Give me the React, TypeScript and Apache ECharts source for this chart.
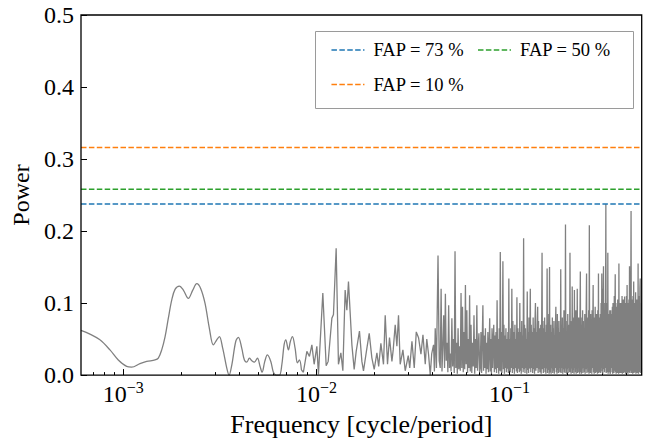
import React, { useEffect, useRef } from "react";
import * as echarts from "echarts";

const F_MIN = 6.04e-4;
const F_MAX = 0.483;

// Smooth low-frequency part of the periodogram
const SMOOTH_FREQ = [
  6.04e-4, 6.72e-4, 7.57e-4, 8.53e-4, 9.42e-4, 1.041e-3, 1.105e-3, 1.22e-3, 1.322e-3, 1.46e-3,
  1.518e-3, 1.581e-3, 1.645e-3, 1.711e-3, 1.781e-3, 1.853e-3, 1.951e-3, 2.046e-3, 2.172e-3, 2.289e-3,
  2.401e-3, 2.518e-3, 2.65e-3, 2.79e-3, 2.926e-3, 3.047e-3, 3.143e-3, 3.273e-3, 3.434e-3, 3.529e-3,
  3.645e-3, 3.823e-3, 3.944e-3, 4.107e-3, 4.236e-3, 4.36e-3, 4.496e-3, 4.628e-3, 4.773e-3, 4.947e-3,
  5.108e-3, 5.232e-3, 5.402e-3, 5.573e-3, 5.803e-3, 5.986e-3, 6.182e-3, 6.43e-3, 6.616e-3, 6.8e-3,
  6.941e-3, 7.16e-3, 7.333e-3, 7.51e-3, 7.756e-3, 7.974e-3, 8.165e-3, 8.363e-3,
];
const SMOOTH_POWER = [
  0.062, 0.057, 0.049, 0.035, 0.021, 0.012, 0.011, 0.016, 0.019, 0.021,
  0.0235, 0.035, 0.053, 0.079, 0.104, 0.119, 0.1235, 0.118, 0.1065, 0.118,
  0.127, 0.12, 0.0996, 0.065, 0.042, 0.049, 0.0535, 0.037, 0.0097, 0.0,
  0.014, 0.047, 0.0525, 0.037, 0.021, 0.018, 0.0235, 0.02, 0.018, 0.0235,
  0.012, 0.004, 0.019, 0.028, 0.019, 0.004, 0.0, 0.0, 0.014, 0.042,
  0.049, 0.035, 0.047, 0.0535, 0.037, 0.017, 0.021, 0.007,
];

// Middle part (individual peaks)
const MID_FREQ = [
  8.56e-3, 8.92e-3, 9.2e-3, 9.47e-3, 9.73e-3, 1.005e-2, 1.024e-2, 1.079e-2, 1.123e-2, 1.15e-2,
  1.202e-2, 1.225e-2, 1.265e-2, 1.3e-2, 1.338e-2, 1.37e-2, 1.408e-2, 1.437e-2, 1.465e-2, 1.526e-2,
  1.568e-2, 1.606e-2, 1.67e-2, 1.719e-2, 1.752e-2, 1.824e-2, 1.876e-2, 1.936e-2, 1.991e-2, 2.056e-2,
  2.1e-2, 2.156e-2, 2.224e-2, 2.27e-2, 2.333e-2, 2.389e-2, 2.459e-2, 2.497e-2, 2.557e-2, 2.609e-2,
  2.66e-2, 2.714e-2, 2.803e-2, 2.881e-2, 2.987e-2, 3.041e-2, 3.122e-2, 3.209e-2, 3.287e-2, 3.378e-2,
  3.476e-2, 3.56e-2, 3.659e-2, 3.726e-2, 3.805e-2, 3.883e-2, 3.953e-2, 4.039e-2, 4.08e-2, 4.121e-2,
  4.18e-2, 4.26e-2, 4.32e-2,
];
const MID_POWER = [
  0.004, 0.033, 0.026, 0.042, 0.015, 0.04, 0.001, 0.114, 0.013, 0.019,
  0.079, 0.084, 0.176, 0.015, 0.031, 0.006, 0.118, 0.09, 0.13, 0.042,
  0.008, 0.033, 0.061, 0.019, 0.006, 0.037, 0.058, 0.024, 0.008, 0.031,
  0.012, 0.044, 0.015, 0.083, 0.015, 0.052, 0.019, 0.035, 0.07, 0.04,
  0.083, 0.015, 0.035, 0.006, 0.027, 0.01, 0.047, 0.01, 0.06, 0.052,
  0.029, 0.056, 0.015, 0.05, 0.029, 0.0, 0.03, 0.042, 0.005, 0.065,
  0.01, 0.166, 0.02,
];

// Dense high-frequency part: band edges (frequency) and the powers inside each band
const DENSE_EDGES = [
  0.04374, 0.04929, 0.05555, 0.06258, 0.07051, 0.07943, 0.08951, 0.1008, 0.1136, 0.128,
  0.1442, 0.1625, 0.1831, 0.2063, 0.2324, 0.2619, 0.2951, 0.3325, 0.3747, 0.4221, 0.483,
];
const DENSE_POWER = [
  [0.01, 0.12, 0.005, 0.04, 0.083, 0.01, 0.113, 0.02, 0.045, 0.004, 0.097, 0.01],
  [0.03, 0.005, 0.079, 0.012, 0.05, 0.003, 0.172, 0.01, 0.045, 0.002, 0.065, 0.008, 0.04],
  [0.006, 0.114, 0.01, 0.095, 0.004, 0.06, 0.008, 0.125, 0.015, 0.09, 0.003, 0.05, 0.01, 0.111],
  [0.005, 0.07, 0.003, 0.045, 0.012, 0.083, 0.002, 0.05, 0.01, 0.097, 0.006, 0.04, 0.058, 0.004],
  [0.01, 0.06, 0.003, 0.05, 0.097, 0.006, 0.055, 0.01, 0.065, 0.002, 0.045, 0.008, 0.06, 0.004, 0.035, 0.079],
  [0.005, 0.05, 0.002, 0.065, 0.01, 0.045, 0.07, 0.004, 0.055, 0.008, 0.06, 0.003, 0.104, 0.01, 0.05, 0.002, 0.065, 0.006],
  [0.171, 0.005, 0.06, 0.003, 0.05, 0.158, 0.008, 0.07, 0.002, 0.055, 0.01, 0.065, 0.004, 0.05, 0.009, 0.06, 0.003, 0.134, 0.006, 0.05],
  [0.004, 0.065, 0.01, 0.12, 0.003, 0.075, 0.008, 0.06, 0.002, 0.07, 0.01, 0.05, 0.005, 0.108, 0.003, 0.065, 0.009, 0.06, 0.004, 0.1],
  [0.006, 0.06, 0.002, 0.075, 0.01, 0.055, 0.004, 0.19, 0.008, 0.07, 0.003, 0.065, 0.01, 0.05, 0.002, 0.116, 0.007, 0.06, 0.003, 0.08, 0.009, 0.055],
  [0.12, 0.004, 0.07, 0.01, 0.06, 0.003, 0.08, 0.008, 0.065, 0.002, 0.075, 0.1, 0.006, 0.06, 0.01, 0.07, 0.095, 0.003, 0.075, 0.008, 0.065, 0.004],
  [0.005, 0.07, 0.002, 0.06, 0.17, 0.008, 0.075, 0.003, 0.065, 0.01, 0.08, 0.004, 0.06, 0.002, 0.07, 0.009, 0.148, 0.003, 0.065, 0.007, 0.085, 0.002, 0.15, 0.006],
  [0.004, 0.07, 0.002, 0.06, 0.009, 0.08, 0.003, 0.065, 0.006, 0.075, 0.002, 0.055, 0.01, 0.07, 0.095, 0.004, 0.06, 0.002, 0.085, 0.007, 0.065, 0.003, 0.075, 0.01, 0.06, 0.004],
  [0.006, 0.147, 0.003, 0.07, 0.01, 0.08, 0.002, 0.065, 0.008, 0.09, 0.004, 0.07, 0.003, 0.209, 0.009, 0.075, 0.002, 0.06, 0.008, 0.085, 0.003, 0.07, 0.01, 0.065, 0.004, 0.17],
  [0.004, 0.075, 0.002, 0.065, 0.009, 0.123, 0.003, 0.08, 0.007, 0.07, 0.002, 0.118, 0.01, 0.075, 0.004, 0.09, 0.002, 0.065, 0.008, 0.12, 0.003, 0.075, 0.01, 0.08, 0.004, 0.07, 0.002, 0.085],
  [0.144, 0.004, 0.08, 0.002, 0.07, 0.009, 0.09, 0.003, 0.075, 0.01, 0.065, 0.004, 0.085, 0.002, 0.07, 0.008, 0.095, 0.141, 0.003, 0.08, 0.01, 0.075, 0.004, 0.09, 0.002, 0.208, 0.006, 0.08],
  [0.003, 0.085, 0.008, 0.07, 0.002, 0.09, 0.01, 0.075, 0.125, 0.004, 0.08, 0.002, 0.07, 0.009, 0.095, 0.003, 0.075, 0.01, 0.085, 0.004, 0.07, 0.002, 0.09, 0.008, 0.141, 0.003, 0.08, 0.01, 0.075, 0.004],
  [0.085, 0.003, 0.1, 0.01, 0.141, 0.005, 0.12, 0.002, 0.11, 0.151, 0.008, 0.1, 0.004, 0.09, 0.01, 0.085, 0.2375, 0.003, 0.09, 0.008, 0.1, 0.004, 0.17, 0.002, 0.085, 0.01, 0.075, 0.004, 0.09, 0.002],
  [0.003, 0.09, 0.01, 0.085, 0.08, 0.004, 0.095, 0.002, 0.1, 0.009, 0.085, 0.003, 0.11, 0.006, 0.09, 0.14, 0.004, 0.1, 0.002, 0.085, 0.01, 0.095, 0.003, 0.105, 0.008, 0.09, 0.002, 0.155, 0.006, 0.095, 0.003, 0.1],
  [0.008, 0.1, 0.003, 0.09, 0.01, 0.11, 0.002, 0.095, 0.006, 0.105, 0.003, 0.09, 0.009, 0.109, 0.004, 0.1, 0.002, 0.095, 0.008, 0.11, 0.003, 0.125, 0.006, 0.1, 0.002, 0.09, 0.01, 0.105, 0.004, 0.151, 0.003, 0.1],
  [0.006, 0.1, 0.228, 0.003, 0.105, 0.009, 0.095, 0.002, 0.11, 0.006, 0.13, 0.003, 0.1, 0.01, 0.095, 0.004, 0.115, 0.002, 0.1, 0.008, 0.105, 0.003, 0.09, 0.006, 0.155, 0.002, 0.11, 0.009, 0.1, 0.004, 0.12, 0.134, 0.003, 0.1, 0.09, 0.004],
];

// False-alarm-probability levels
const FAP_LABELS = ["FAP = 73 %", "FAP = 50 %", "FAP = 10 %"];
const FAP_LEVELS = [0.2375, 0.258, 0.316];
const FAP_COLORS = ["#1f77b4", "#2ca02c", "#ff7f0e"];

// Axis ticks
const X_MAJOR_EXP = [-3, -2, -1];
const X_MINOR = [
  7e-4, 8e-4, 9e-4, 2e-3, 3e-3, 4e-3, 5e-3, 6e-3, 7e-3, 8e-3, 9e-3,
  0.02, 0.03, 0.04, 0.05, 0.06, 0.07, 0.08, 0.09, 0.2, 0.3, 0.4,
];
const Y_MIN = 0;
const Y_MAX = 0.5;
const Y_STEP = 0.1;

const FONT = "Liberation Serif";
const GRAY = "#808080";

export default function App() {
  const ref = useRef<HTMLDivElement>(null);

  useEffect(() => {
    if (!ref.current) return;
    const chart = echarts.init(ref.current, undefined, { renderer: "svg" });

    const smoothData = SMOOTH_FREQ.map((f, i) => [f, SMOOTH_POWER[i]]);
    const lastSmooth = smoothData[smoothData.length - 1];
    const restData: number[][] = [lastSmooth];
    MID_FREQ.forEach((f, i) => restData.push([f, MID_POWER[i]]));
    DENSE_POWER.forEach((band, k) => {
      const f0 = DENSE_EDGES[k];
      const f1 = DENSE_EDGES[k + 1];
      band.forEach((p, j) => restData.push([f0 + ((f1 - f0) * j) / band.length, p]));
    });

    const lxMin = Math.log10(F_MIN);
    const lxMax = Math.log10(F_MAX);

    const fapSeries = FAP_LABELS.map((name, i) => ({
      type: "line",
      name,
      xAxisIndex: 0,
      data: [
        [F_MIN, FAP_LEVELS[i]],
        [F_MAX, FAP_LEVELS[i]],
      ],
      symbol: "none",
      silent: true,
      z: 4,
      itemStyle: { color: FAP_COLORS[i] },
      lineStyle: { color: FAP_COLORS[i], width: 1.5, type: [5.5, 2.4] },
    }));

    chart.setOption({
      animation: false,
      backgroundColor: "#ffffff",
      textStyle: { fontFamily: FONT },
      grid: {
        left: 81,
        right: 7.3,
        top: 15,
        bottom: 65,
        show: true,
        borderColor: "#000",
        borderWidth: 1.3,
        backgroundColor: "transparent",
        z: 5,
      },
      xAxis: [
        {
          type: "log",
          logBase: 10,
          min: F_MIN,
          max: F_MAX,
          position: "bottom",
          axisLine: { show: false },
          axisTick: { show: false },
          axisLabel: { show: false },
          splitLine: { show: false },
        },
        {
          type: "value",
          min: lxMin,
          max: lxMax,
          position: "bottom",
          axisLine: { show: false },
          splitLine: { show: false },
          axisTick: {
            show: true,
            inside: true,
            length: 6,
            customValues: X_MAJOR_EXP,
            lineStyle: { color: "#000", width: 1 },
          },
          axisLabel: {
            show: true,
            customValues: X_MAJOR_EXP,
            margin: 4,
            fontFamily: FONT,
            formatter: (v: number) => `{b|10}{s|\u2212${Math.round(-v)}}`,
            rich: {
              b: { fontSize: 24, fontFamily: FONT, color: "#000", lineHeight: 30 },
              s: { fontSize: 16, fontFamily: FONT, color: "#000", verticalAlign: "top", lineHeight: 17 },
            },
          },
          name: "Frequency [cycle/period]",
          nameLocation: "middle",
          nameGap: 35,
          nameTextStyle: { fontSize: 26, fontFamily: FONT, color: "#000" },
        },
        {
          type: "value",
          min: lxMin,
          max: lxMax,
          position: "bottom",
          axisLine: { show: false },
          splitLine: { show: false },
          axisTick: {
            show: true,
            inside: true,
            length: 3,
            customValues: X_MINOR.map((f) => Math.log10(f)),
            lineStyle: { color: "#000", width: 1 },
          },
          axisLabel: { show: false },
        },
      ],
      yAxis: {
        type: "value",
        min: Y_MIN,
        max: Y_MAX,
        interval: Y_STEP,
        axisLine: { show: false },
        splitLine: { show: false },
        axisTick: { show: true, inside: true, length: 6, lineStyle: { color: "#000", width: 1 } },
        axisLabel: {
          margin: 7,
          fontSize: 24,
          fontFamily: FONT,
          color: "#000",
          formatter: (v: number) => v.toFixed(1),
        },
        name: "Power",
        nameLocation: "middle",
        nameGap: 45,
        nameTextStyle: { fontSize: 24, fontFamily: FONT, color: "#000" },
      },
      legend: {
        data: FAP_LABELS,
        left: 330.7,
        top: 39.2,
        width: 290,
        padding: 0,
        orient: "horizontal",
        itemGap: 13,
        itemWidth: 33,
        itemHeight: 27,
        selectedMode: false,
        itemStyle: { opacity: 0 },
        lineStyle: { width: 1.5 },
        textStyle: { fontFamily: FONT, fontSize: 18.5, color: "#000", padding: [0, 0, 0, 4] },
      },
      graphic: [
        {
          type: "rect",
          silent: true,
          z: 1,
          shape: { x: 315.5, y: 31.5, width: 318, height: 77 },
          style: { fill: "none", stroke: "#9a9a9a", lineWidth: 1 },
        },
      ],
      series: [
        {
          type: "line",
          name: "Periodogram (low)",
          xAxisIndex: 0,
          data: smoothData,
          smooth: 0.35,
          symbol: "none",
          silent: true,
          z: 3,
          lineStyle: { color: GRAY, width: 1.3 },
          itemStyle: { color: GRAY },
        },
        {
          type: "line",
          name: "Periodogram",
          xAxisIndex: 0,
          data: restData,
          symbol: "none",
          silent: true,
          z: 3,
          lineStyle: { color: GRAY, width: 1.3, join: "miter", miterLimit: 2 },
          itemStyle: { color: GRAY },
        },
        ...fapSeries,
      ],
    });

    return () => chart.dispose();
  }, []);

  return (
    <div
      ref={ref}
      style={{ position: "absolute", left: 0, top: 0, width: 649, height: 442, background: "#fff" }}
    />
  );
}
